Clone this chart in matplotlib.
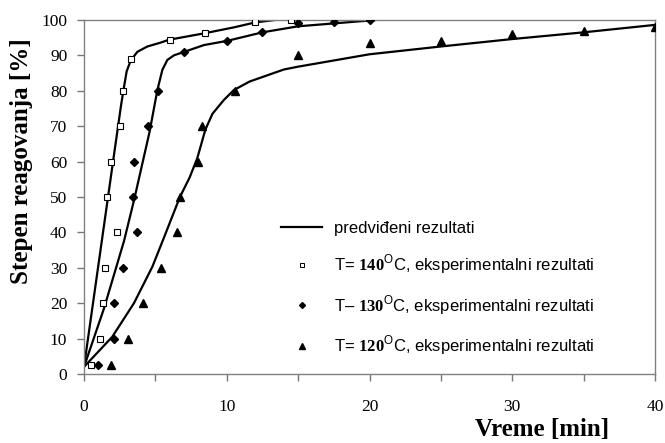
import matplotlib.pyplot as plt
from matplotlib.lines import Line2D

plt.rcParams['font.family'] = ['Liberation Serif', 'DejaVu Serif']
plt.rcParams['mathtext.fontset'] = 'custom'
plt.rcParams['mathtext.rm'] = 'Liberation Sans'
plt.rcParams['mathtext.bf'] = 'Liberation Serif:bold'

# experimental points
t140 = [0.5, 1.1, 1.3, 1.5, 1.6, 1.9, 2.3, 2.5, 2.7, 3.3, 6, 8.5, 12, 14.5]
y140 = [2.5, 10, 20, 30, 50, 60, 40, 70, 80, 89, 94.4, 96.3, 99.5, 100]
t130 = [1.0, 2.1, 2.1, 2.7, 3.7, 3.4, 3.5, 4.45, 5.15, 7, 10, 12.5, 15, 17.5, 20]
y130 = [2.5, 10, 20, 30, 40, 50, 60, 70, 80, 91, 94, 96.5, 99, 99.3, 100]
t120 = [1.9, 3.1, 4.1, 5.4, 6.5, 6.75, 8, 8.3, 10.6, 15, 20, 25, 30, 35, 40]
y120 = [2.5, 10, 20, 30, 40, 50, 60, 70, 80, 90, 93.5, 94, 96, 97, 98]

# predicted curves
mt140 = [0, 1.0, 2.0, 2.6, 2.8, 2.99, 3.27, 3.74, 4.44, 5.37, 5.95, 8.4, 10.5, 12, 14]
my140 = [2, 30.5, 59, 76, 81, 85.5, 88.5, 91, 92.5, 93.6, 94.4, 96.2, 97.9, 99.3, 100.3]
mt130 = [0, 1.4, 2.8, 3.5, 4.6, 5.14, 5.49, 5.84, 6.3, 6.96, 8.4, 10.04, 12.5, 15, 20.5]
my130 = [2, 18.5, 37.5, 49, 68.5, 80.2, 85.9, 88.7, 90.0, 90.9, 92.9, 94.1, 96.5, 98.2, 100]
mt120 = [0, 1.98, 3.5, 4.79, 5.6, 6.72, 7.4, 7.94, 8.5, 9.0, 9.8, 10.5, 11.6, 14, 15, 20, 25, 30, 35, 40]
my120 = [2, 10.5, 20, 30.3, 38.5, 50, 55.5, 61, 69, 73.5, 77.4, 80.2, 82.6, 86, 86.8, 90.3, 92.5, 94.6, 96.5, 98.6]

xticks = list(range(0, 41, 5))
xlabels = [str(v) if v % 10 == 0 else '' for v in xticks]
yticks = list(range(0, 101, 10))

fig = plt.figure(figsize=(6.65, 4.43), dpi=100)
ax = fig.add_axes([0.1263, 0.1558, 0.8587, 0.7992])

for mt, my in [(mt140, my140), (mt130, my130), (mt120, my120)]:
    ax.plot(mt, my, color='black', lw=1.6, zorder=2, solid_joinstyle='round')

ax.plot(t140, y140, 's', ms=4.5, mfc='white', mec='black', mew=0.8, zorder=3)
ax.plot(t130, y130, 'D', ms=3.8, color='black', zorder=3)
ax.plot(t120, y120, '^', ms=5.5, color='black', zorder=3)

ax.set_xlim(0, 40)
ax.set_ylim(0, 100)
ax.set_xticks(xticks)
ax.set_xticklabels(xlabels)
ax.set_yticks(yticks)
ax.tick_params(axis='x', length=5, width=1, color='#777777', pad=13, labelsize=12.5)
ax.tick_params(axis='y', length=5, width=1, color='#777777', pad=7, labelsize=12.5)
for s in ax.spines.values():
    s.set_color('#808080')
    s.set_linewidth(1)

ax.set_xlabel('Vreme [min]', fontsize=18, fontweight='bold')
ax.xaxis.set_label_coords(0.802, -0.125)
ax.set_ylabel('Stepen reagovanja [%]', fontsize=18, fontweight='bold')
ax.yaxis.set_label_coords(-0.089, 0.6)

handles = [
    Line2D([], [], color='black', lw=1.6),
    Line2D([], [], ls='', marker='s', ms=3.5, mfc='white', mec='black', mew=0.7),
    Line2D([], [], ls='', marker='D', ms=3, color='black'),
    Line2D([], [], ls='', marker='^', ms=4.5, color='black'),
]
labels = [
    'predviđeni rezultati',
    'T= $\\mathbf{140}^{\\mathrm{O}}$C, eksperimentalni rezultati',
    'T– $\\mathbf{130}^{\\mathrm{O}}$C, eksperimentalni rezultati',
    'T= $\\mathbf{120}^{\\mathrm{O}}$C, eksperimentalni rezultati',
]
ax.legend(handles, labels, loc='upper left', bbox_to_anchor=(0.33, 0.455),
          frameon=False, prop={'family': 'Liberation Sans', 'size': 12},
          handlelength=2.5, handletextpad=0.7, labelspacing=1.0, borderpad=0)

fig.savefig('out.png', dpi=100)
